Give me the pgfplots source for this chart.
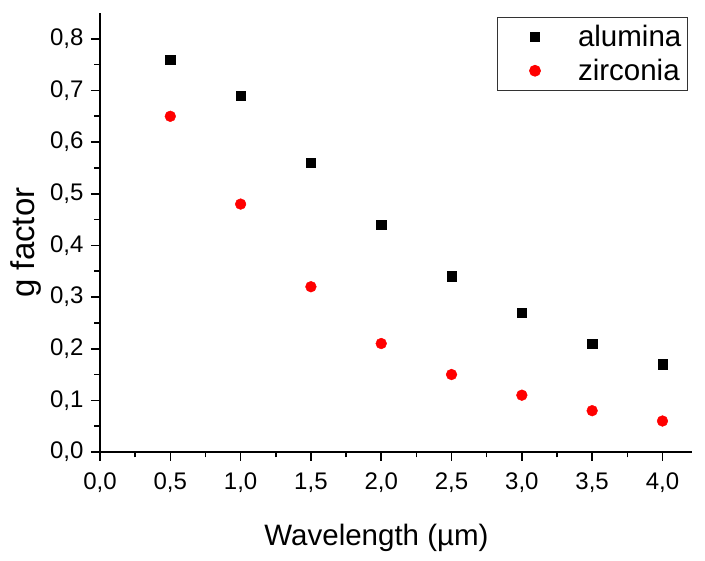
\documentclass[border=0pt]{standalone}
\usepackage{pgfplots}
\pgfplotsset{compat=1.18}
\usepackage{fontspec}
\setmainfont{Liberation Sans}
\begin{document}
\begin{tikzpicture}[x=1pt,y=1pt]
\useasboundingbox (-100,-109) rectangle (605,452);
\begin{axis}[
  at={(0,0)}, anchor=origin,
  scale only axis, width=592pt, height=439pt,
  xmin=0, xmax=4.21, ymin=0, ymax=0.85,
  axis lines*=left,
  axis line style={-, line width=1.8pt},
  xtick={0,0.5,...,4.0}, ytick={0,0.1,...,0.8},
  minor tick num=1,
  tick align=outside,
  major tick length=9pt, minor tick length=5.5pt,
  every tick/.style={black, line width=1.6pt},
  /pgf/number format/.cd, use comma, fixed, fixed zerofill, precision=1, assume math mode=true,
  /pgfplots/.cd,
  tick label style={font=\fontsize{24}{27}\selectfont},
  xticklabel style={yshift=-8pt},
  yticklabel style={xshift=-4pt},
  xlabel={Wavelength (µm)},
  ylabel={g factor},
  xlabel style={font=\fontsize{29.5}{32}\selectfont, yshift=-25pt, xshift=-19.5pt},
  ylabel style={font=\fontsize{33}{36}\selectfont, yshift=2pt, xshift=-10pt},
  legend style={at={(0.993,0.991)}, anchor=north east, draw=black!80, line width=1pt,
    font=\fontsize{29.5}{33}\selectfont, inner xsep=4pt, inner ysep=6pt, row sep=7pt},
  legend cell align=left,
  legend image code/.code={%
    \path (-0.85cm,0cm) (0.6cm,0cm);
    \draw[mark repeat=2,mark phase=2,#1] plot coordinates {(0cm,0cm) (0.3cm,0cm) (0.6cm,0cm)};},
]
\addplot[only marks, mark=square*, mark size=4.7pt, black] coordinates {
(0.5,0.76) (1.0,0.69) (1.5,0.56) (2.0,0.44) (2.5,0.34) (3.0,0.27) (3.5,0.21) (4.0,0.17)};
\addlegendentry{\hspace{32pt}alumina}
\addplot[only marks, mark=*, mark size=5.4pt, red, mark options={draw=red, fill=red}] coordinates {
(0.5,0.65) (1.0,0.48) (1.5,0.32) (2.0,0.21) (2.5,0.15) (3.0,0.11) (3.5,0.08) (4.0,0.06)};
\addlegendentry{\hspace{32pt}zirconia}
\end{axis}
\end{tikzpicture}
\end{document}
